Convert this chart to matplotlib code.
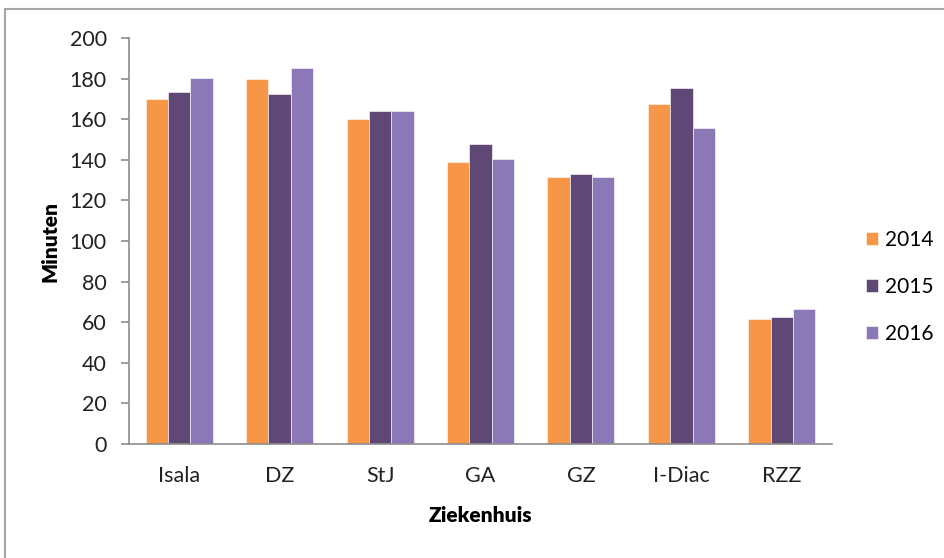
import numpy as np
import matplotlib.pyplot as plt
from matplotlib.patches import Rectangle

# data
ziekenhuizen = ['Isala', 'DZ', 'StJ', 'GA', 'GZ', 'I-Diac', 'RZZ']
jaren = ['2014', '2015', '2016']
minuten_2014 = [170, 179.7, 160.3, 139, 131.7, 167.6, 61.8]
minuten_2015 = [173.2, 172.3, 163.8, 148, 132.8, 175.5, 62.4]
minuten_2016 = [180.2, 185, 163.8, 140.2, 131.7, 155.9, 66.5]
yticks = [0, 20, 40, 60, 80, 100, 120, 140, 160, 180, 200]

kleuren = ['#F79646', '#5F4876', '#8B78B7']

plt.rcParams['font.family'] = ['Lato', 'DejaVu Sans']
plt.rcParams['font.size'] = 15.5

fig = plt.figure(figsize=(9.44, 5.58), dpi=100)
ax = fig.add_axes([129 / 944, 1 - 444 / 558, 703 / 944, 406 / 558])

x = np.arange(len(ziekenhuizen))
w = 0.222
reeksen = [minuten_2014, minuten_2015, minuten_2016]
for i, (jaar, waarden) in enumerate(zip(jaren, reeksen)):
    ax.bar(x + (i - 1) * w, waarden, width=w, color=kleuren[i],
           edgecolor='white', linewidth=0.4, label=jaar, zorder=2)

ax.set_xlim(-0.5, len(ziekenhuizen) - 0.5)
ax.set_ylim(0, 200)
ax.set_yticks(yticks)
ax.set_xticks(x)
ax.set_xticklabels(ziekenhuizen)

for s in ['top', 'right']:
    ax.spines[s].set_visible(False)
for s in ['left', 'bottom']:
    ax.spines[s].set_color('#8C8C8C')
    ax.spines[s].set_linewidth(1.2)

ax.tick_params(axis='y', length=6, width=1.2, color='#8C8C8C', pad=10,
               labelcolor='#222222')
ax.tick_params(axis='x', length=0, pad=16, labelcolor='#222222')

ax.set_ylabel('Minuten', fontweight='heavy', fontsize=15, labelpad=7)
ax.set_xlabel('Ziekenhuis', fontweight='heavy', fontsize=15, labelpad=14)

leg = ax.legend(loc='center left', bbox_to_anchor=(1.022, 0.387), frameon=False,
                handlelength=0.58, handleheight=0.58, labelspacing=1.28,
                handletextpad=0.3, fontsize=15)

# outer chart border
fig.patches.append(Rectangle((5 / 944, -0.05), 2, 1.05 - 9 / 558,
                             transform=fig.transFigure, fill=False,
                             edgecolor='#A6A6A6', linewidth=1.5))

fig.savefig('out.png', dpi=100)
